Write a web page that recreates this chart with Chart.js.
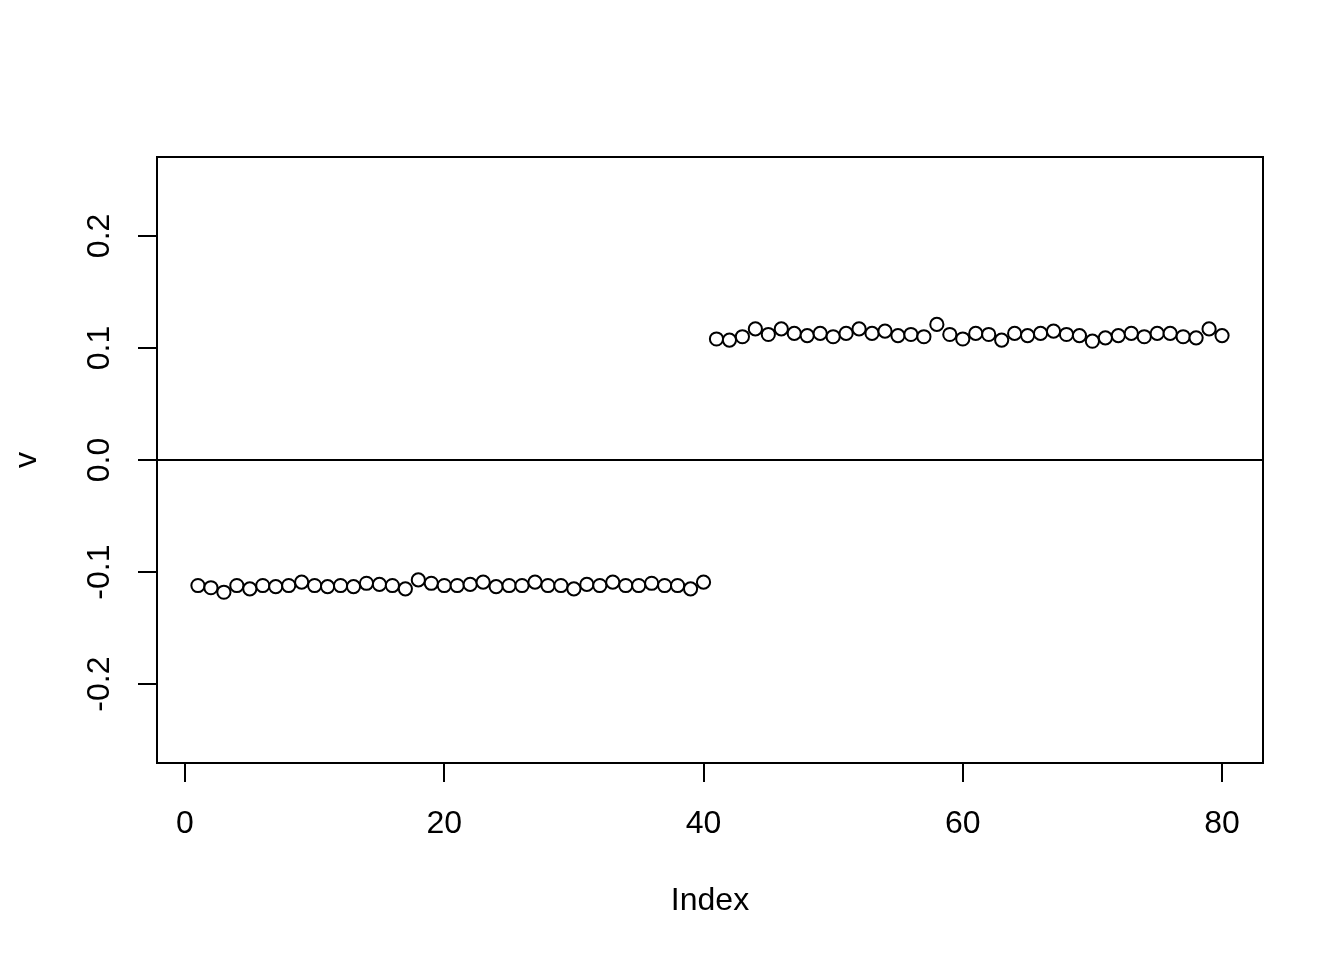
<!DOCTYPE html>
<html>
<head>
<meta charset="utf-8">
<script src="https://cdn.jsdelivr.net/npm/chart.js@4"></script>
<style>
  html, body { margin: 0; padding: 0; background: #fff; }
  canvas { display: block; }
</style>
</head>
<body>
<canvas id="plot" width="1344" height="960"></canvas>
<script>
// values of v (index 1..80)
const vFirst = [
  -0.112, -0.114, -0.118, -0.112, -0.115, -0.112, -0.113, -0.112, -0.109, -0.112,
  -0.113, -0.112, -0.113, -0.110, -0.111, -0.112, -0.115, -0.107, -0.110, -0.112,
  -0.112, -0.111, -0.109, -0.113, -0.112, -0.112, -0.109, -0.112, -0.112, -0.115,
  -0.111, -0.112, -0.109, -0.112, -0.112, -0.110, -0.112, -0.112, -0.115, -0.109
];
const vSecond = [
  0.108, 0.107, 0.110, 0.117, 0.112, 0.117, 0.113, 0.111, 0.113, 0.110,
  0.113, 0.117, 0.113, 0.115, 0.111, 0.112, 0.110, 0.121, 0.112, 0.108,
  0.113, 0.112, 0.107, 0.113, 0.111, 0.113, 0.115, 0.112, 0.111, 0.106,
  0.109, 0.111, 0.113, 0.110, 0.113, 0.113, 0.110, 0.109, 0.117, 0.111
];
const xTicks = [0, 20, 40, 60, 80];
const yTicks = [-0.2, -0.1, 0.0, 0.1, 0.2];
const yTickLabels = ['-0.2', '-0.1', '0.0', '0.1', '0.2'];
const xTitle = 'Index';
const yTitle = 'v';

const v = vFirst.concat(vSecond);
const points = v.map((val, i) => ({ x: i + 1, y: val }));

const FONT = '32px "Liberation Sans", Arial, Helvetica, sans-serif';

// R style box, zero line and labels
const rStyle = {
  id: 'rStyle',
  beforeDatasetsDraw(chart) {
    const ctx = chart.ctx, a = chart.chartArea, ys = chart.scales.y;
    const y0 = ys.getPixelForValue(0);
    ctx.save();
    ctx.strokeStyle = '#000';
    ctx.lineWidth = 2;
    ctx.beginPath();
    ctx.moveTo(a.left, y0);
    ctx.lineTo(a.right, y0);
    ctx.stroke();
    ctx.restore();
  },
  afterDraw(chart) {
    const ctx = chart.ctx, a = chart.chartArea;
    const xs = chart.scales.x, ys = chart.scales.y;
    ctx.save();
    ctx.strokeStyle = '#000';
    ctx.lineWidth = 2;
    ctx.strokeRect(a.left, a.top, a.right - a.left, a.bottom - a.top);

    ctx.fillStyle = '#000';
    ctx.font = FONT;
    ctx.textAlign = 'center';
    ctx.textBaseline = 'middle';
    xTicks.forEach(t => ctx.fillText(String(t), xs.getPixelForValue(t), 824));
    yTicks.forEach((t, i) => {
      ctx.save();
      ctx.translate(100, ys.getPixelForValue(t));
      ctx.rotate(-Math.PI / 2);
      ctx.fillText(yTickLabels[i], 0, 0);
      ctx.restore();
    });
    ctx.fillText(xTitle, (a.left + a.right) / 2, 901);
    ctx.save();
    ctx.translate(27, (a.top + a.bottom) / 2);
    ctx.rotate(-Math.PI / 2);
    ctx.fillText(yTitle, 0, 0);
    ctx.restore();
    ctx.restore();
  }
};

new Chart(document.getElementById('plot'), {
  type: 'scatter',
  data: {
    datasets: [{
      data: points,
      pointRadius: 6.6,
      pointHoverRadius: 6.6,
      pointBorderWidth: 2,
      pointBorderColor: '#000',
      pointBackgroundColor: '#fff',
      showLine: false
    }]
  },
  options: {
    responsive: false,
    animation: false,
    devicePixelRatio: 1,
    layout: { padding: { top: 157, right: 81, left: 0, bottom: 0 } },
    plugins: { legend: { display: false }, tooltip: { enabled: false } },
    scales: {
      x: {
        type: 'linear',
        min: -2.16,
        max: 83.16,
        afterBuildTicks: s => { s.ticks = xTicks.map(t => ({ value: t })); },
        afterFit: s => { s.height = 197; },
        grid: { drawOnChartArea: false, drawTicks: true, tickLength: 19, lineWidth: 2, color: '#000' },
        border: { display: false },
        ticks: { display: false }
      },
      y: {
        type: 'linear',
        min: -0.2704,
        max: 0.2704,
        afterBuildTicks: s => { s.ticks = yTicks.map(t => ({ value: t })); },
        afterFit: s => { s.width = 157; },
        grid: { drawOnChartArea: false, drawTicks: true, tickLength: 19, lineWidth: 2, color: '#000' },
        border: { display: false },
        ticks: { display: false }
      }
    }
  },
  plugins: [rStyle]
});
</script>
</body>
</html>
